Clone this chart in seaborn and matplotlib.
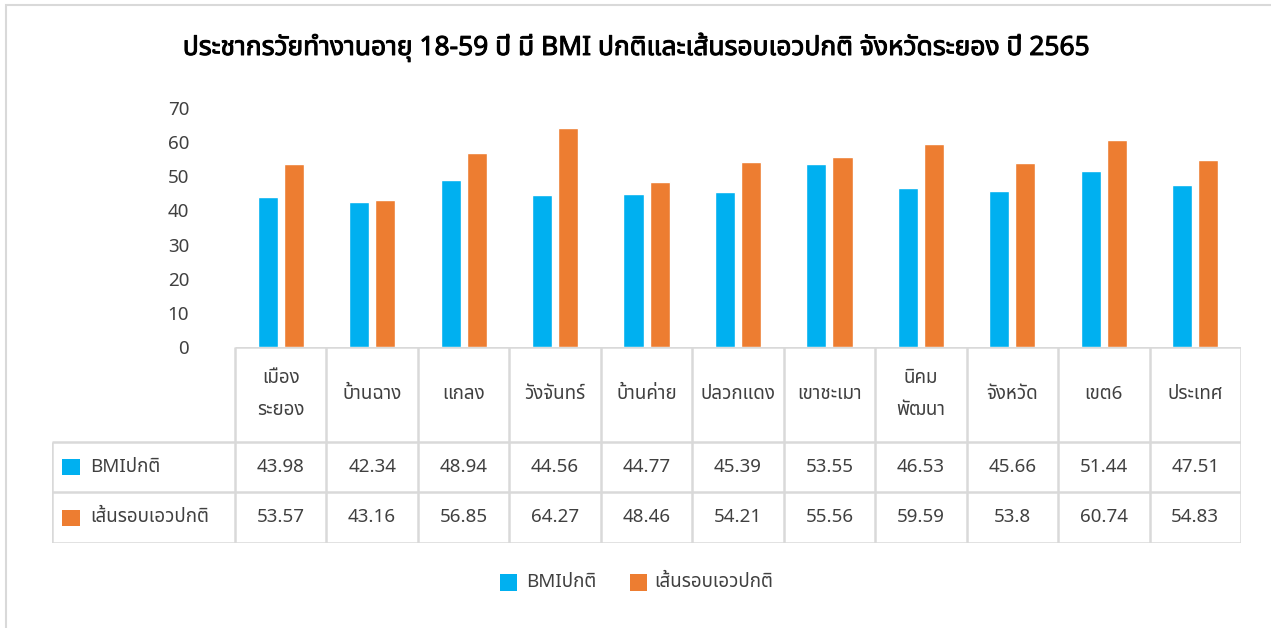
import matplotlib
matplotlib.use("Agg")
import matplotlib.pyplot as plt
from matplotlib.patches import Rectangle
import matplotlib.patheffects as pe
import seaborn as sns
import pandas as pd

# -------------------------
# data
# -------------------------
title = "ประชากรวัยทำงานอายุ 18-59 ปี มี BMI ปกติและเส้นรอบเอวปกติ จังหวัดระยอง ปี 2565"
categories = ["เมือง\nระยอง", "บ้านฉาง", "แกลง", "วังจันทร์", "บ้านค่าย", "ปลวกแดง",
              "เขาชะเมา", "นิคม\nพัฒนา", "จังหวัด", "เขต6", "ประเทศ"]
series = ["BMIปกติ", "เส้นรอบเอวปกติ"]
bmi_normal = [43.98, 42.34, 48.94, 44.56, 44.77, 45.39, 53.55, 46.53, 45.66, 51.44, 47.51]
waist_normal = [53.57, 43.16, 56.85, 64.27, 48.46, 54.21, 55.56, 59.59, 53.8, 60.74, 54.83]
value_labels = [
    ["43.98", "42.34", "48.94", "44.56", "44.77", "45.39", "53.55", "46.53", "45.66", "51.44", "47.51"],
    ["53.57", "43.16", "56.85", "64.27", "48.46", "54.21", "55.56", "59.59", "53.8", "60.74", "54.83"],
]
colors = ["#00B0F0", "#ED7D31"]
yticks = [0, 10, 20, 30, 40, 50, 60, 70]

sns.set_theme(style="white")
plt.rcParams["font.family"] = ["Noto Sans Thai", "Noto Sans", "DejaVu Sans"]

df = pd.DataFrame({
    "cat": categories * 2,
    "series": [series[0]] * len(categories) + [series[1]] * len(categories),
    "value": bmi_normal + waist_normal,
})

W, H = 1271, 628
fig = plt.figure(figsize=(W / 100, H / 100), dpi=100)

def px_rect(x0, y0, x1, y1):
    return [x0 / W, 1 - y1 / H, (x1 - x0) / W, (y1 - y0) / H]

# outer border
fig.patches.append(Rectangle((6 / W, -0.1), 1.2, 1 - 5 / H + 0.1, transform=fig.transFigure,
                             fill=False, edgecolor="#D9D9D9", linewidth=1.5))

# -------------------------
# bars
# -------------------------
ax = fig.add_axes(px_rect(235, 108, 1241, 347))
sns.barplot(data=df, x="cat", y="value", hue="series", palette=colors, width=0.57, gap=0.23,
            order=categories, hue_order=series, legend=False, ax=ax, saturation=1)
ax.set_xlim(-0.5, len(categories) - 0.5)
ax.set_ylim(0, 70)
ax.set_yticks(yticks)
ax.set_yticklabels([str(t) for t in yticks], fontsize=13.5, color="#404040")
ax.tick_params(axis="y", length=0, pad=33)
ax.set_xticks([])
ax.set_xlabel("")
ax.set_ylabel("")
for s in ax.spines.values():
    s.set_visible(False)
ax.patch.set_alpha(0)

# -------------------------
# data table
# -------------------------
tab = fig.add_axes(px_rect(52, 347, 1241, 543))
n = len(categories)
left = -0.5 - (235 - 52) / ((1241 - 235) / n)
tab.set_xlim(left, n - 0.5)
tab.set_ylim(196, 0)
tab.axis("off")
lc = "#D9D9D9"
lw = 1.8
rows_y = [0, 95, 145, 196]
tab.hlines(0, -0.5, n - 0.5, color=lc, lw=lw)
tab.hlines(rows_y[1:], left, n - 0.5, color=lc, lw=lw)
for i in range(n + 1):
    tab.vlines(i - 0.5, 0, 196, color=lc, lw=lw)
tab.vlines(left, 95, 196, color=lc, lw=lw)

for i, c in enumerate(categories):
    tab.text(i, 47, c, ha="center", va="center", fontsize=13.5, color="#404040", linespacing=2.0)
for r, lab in enumerate(value_labels):
    yc = (rows_y[r + 1] + rows_y[r + 2]) / 2
    for i, v in enumerate(lab):
        tab.text(i, yc, v, ha="center", va="center", fontsize=13.5, color="#404040")
    tab.add_patch(Rectangle((left + 0.11, yc - 8), 0.2, 16, color=colors[r], lw=0))
    tab.text(left + 0.42, yc, series[r], ha="left", va="center", fontsize=13.5, color="#404040")

# -------------------------
# legend + title
# -------------------------
lg = fig.add_axes([0, 0, 1, 1])
lg.set_xlim(0, W)
lg.set_ylim(H, 0)
lg.axis("off")
lg.add_patch(Rectangle((500, 574), 17, 17, color=colors[0], lw=0))
lg.text(526, 582, series[0], ha="left", va="center", fontsize=13.5, color="#404040")
lg.add_patch(Rectangle((630, 574), 17, 17, color=colors[1], lw=0))
lg.text(654, 582, series[1], ha="left", va="center", fontsize=13.5, color="#404040")

# no bold Thai face installed, so thicken the title with a stroke
fig.suptitle(title, x=0.5, y=1 - 47 / H, va="center", fontsize=19, fontweight="bold", color="#000000",
             path_effects=[pe.withStroke(linewidth=0.7, foreground="#000000")])

fig.savefig("out.png", dpi=100)
